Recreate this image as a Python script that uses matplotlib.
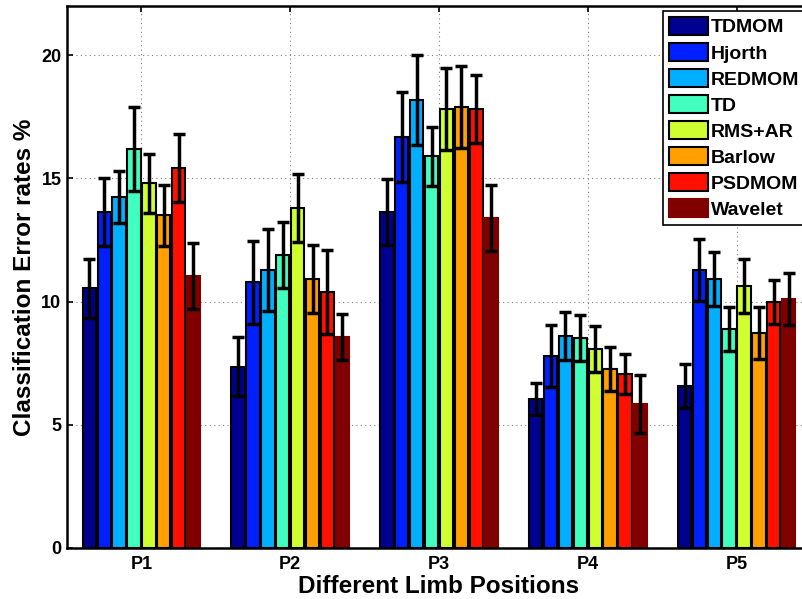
import matplotlib
matplotlib.use("Agg")
import matplotlib.pyplot as plt
import numpy as np

positions = ["P1", "P2", "P3", "P4", "P5"]
methods = ["TDMOM", "Hjorth", "REDMOM", "TD", "RMS+AR", "Barlow", "PSDMOM", "Wavelet"]

# error rate (%) per method, one value per limb position P1..P5
tdmom = [10.55, 7.35, 13.63, 6.04, 6.57]
hjorth = [13.63, 10.78, 16.67, 7.79, 11.28]
redmom = [14.24, 11.28, 18.17, 8.60, 10.91]
td = [16.19, 11.89, 15.90, 8.52, 8.88]
rms_ar = [14.80, 13.80, 17.81, 8.07, 10.63]
barlow = [13.50, 10.90, 17.89, 7.26, 8.72]
psdmom = [15.43, 10.39, 17.81, 7.06, 9.98]
wavelet = [11.05, 8.56, 13.39, 5.84, 10.10]

# standard deviation per method
tdmom_err = [1.20, 1.20, 1.34, 0.65, 0.89]
hjorth_err = [1.37, 1.68, 1.83, 1.26, 1.25]
redmom_err = [1.06, 1.67, 1.83, 0.97, 1.10]
td_err = [1.70, 1.35, 1.20, 0.93, 0.90]
rms_ar_err = [1.20, 1.37, 1.66, 0.93, 1.10]
barlow_err = [1.25, 1.38, 1.66, 0.89, 1.06]
psdmom_err = [1.37, 1.70, 1.38, 0.81, 0.89]
wavelet_err = [1.35, 0.92, 1.34, 1.18, 1.06]

values = [tdmom, hjorth, redmom, td, rms_ar, barlow, psdmom, wavelet]
errors = [tdmom_err, hjorth_err, redmom_err, td_err, rms_ar_err,
          barlow_err, psdmom_err, wavelet_err]

# MATLAB jet(64) rows picked by the default bar colouring
colors = ["#000090", "#0020FF", "#00AFFF", "#40FFBF",
          "#CFFF30", "#FF9F00", "#FF1000", "#800000"]

plt.rcParams["font.family"] = ["Liberation Sans", "DejaVu Sans"]
plt.rcParams["font.weight"] = "bold"

fig = plt.figure(figsize=(8.03, 5.99), dpi=100)
ax = fig.add_axes([67 / 803, 51 / 599, 744 / 803, 542 / 599])

x = np.arange(1, len(positions) + 1)
step = 0.1
w = 0.09
n = len(methods)
for i, (name, vals, errs) in enumerate(zip(methods, values, errors)):
    off = (i - (n - 1) / 2) * step
    edge = colors[i] if name == "Wavelet" else "black"
    ax.bar(x + off, vals, width=w, color=colors[i], edgecolor=edge,
           linewidth=1.5, label=name, zorder=2)
    ax.errorbar(x + off, vals, yerr=errs, fmt="none", ecolor="black",
                elinewidth=2.5, capsize=4, capthick=2.5, zorder=3)

ax.set_xlim(0.5, 5.5)
ax.set_ylim(0, 22)
ax.set_xticks(x)
ax.set_xticklabels(positions)
ax.set_yticks([0, 5, 10, 15, 20])
ax.grid(True, linestyle=(0, (1, 3)), color="#808080", linewidth=0.8)
ax.set_axisbelow(True)
ax.tick_params(direction="in", length=4, width=1.2, labelsize=13,
               top=True, right=True)
ax.tick_params(axis="x", pad=6)
ax.tick_params(axis="y", pad=4)
for sp in ax.spines.values():
    sp.set_linewidth(1.8)

ax.set_xlabel("Different Limb Positions", fontsize=17.5, fontweight="bold",
              labelpad=1)
ax.set_ylabel("Classification Error rates %", fontsize=17.5,
              fontweight="bold", labelpad=4)

leg = ax.legend(loc="upper left", bbox_to_anchor=(663 / 803, 1 - 11 / 599),
                bbox_transform=fig.transFigure, fontsize=14, frameon=True,
                fancybox=False, framealpha=1, edgecolor="black",
                handlelength=2.0, handleheight=1.05, handletextpad=0.15,
                labelspacing=0.33, borderpad=0.3, borderaxespad=0)
leg.get_frame().set_linewidth(1.2)
for t in leg.get_texts():
    t.set_fontweight("bold")

fig.savefig("out.png", dpi=100)
